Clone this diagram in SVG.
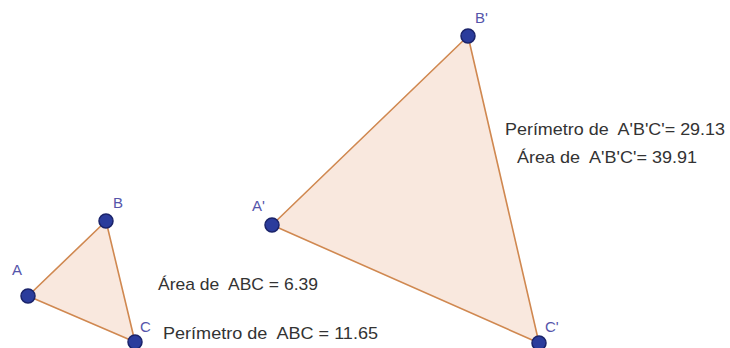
<svg xmlns="http://www.w3.org/2000/svg" width="730" height="348" viewBox="0 0 730 348">
<style>
.tri{fill:#f9e8de;stroke:#d08850;stroke-width:1.6;stroke-linejoin:round}
.pt{fill:#2b3c9c;stroke:#1a236a;stroke-width:1.5}
.lbl{font-family:"Liberation Sans",Arial,sans-serif;font-size:15px;fill:#5555aa}
.txt{font-family:"Liberation Sans",Arial,sans-serif;font-size:17px;fill:#333333;white-space:pre}
</style>
<rect width="730" height="348" fill="#ffffff"/>
<g id="connectors">
<polygon id="triABC" class="tri" points="28,296 106,221 135,342"/>
<polygon id="triA1B1C1" class="tri" points="272,225 468,36 539,343"/>
</g>
<g id="A"><circle class="pt" cx="28" cy="296" r="7"/><text class="lbl" x="12" y="275">A</text></g>
<g id="B"><circle class="pt" cx="106" cy="221" r="7"/><text class="lbl" x="113" y="208">B</text></g>
<g id="C"><circle class="pt" cx="135" cy="342" r="7"/><text class="lbl" x="140" y="332">C</text></g>
<g id="A1"><circle class="pt" cx="272" cy="225" r="7"/><text class="lbl" x="252" y="211">A'</text></g>
<g id="B1"><circle class="pt" cx="468" cy="36" r="7"/><text class="lbl" x="475" y="23">B'</text></g>
<g id="C1"><circle class="pt" cx="539" cy="343" r="7"/><text class="lbl" x="545" y="332">C'</text></g>
<g id="labels">
<text class="txt" x="158" y="290" textLength="160" lengthAdjust="spacingAndGlyphs">Área de  ABC = 6.39</text>
<text class="txt" x="163" y="339" textLength="215" lengthAdjust="spacingAndGlyphs">Perímetro de  ABC = 11.65</text>
<text class="txt" x="505" y="135" textLength="220" lengthAdjust="spacingAndGlyphs">Perímetro de  A'B'C'= 29.13</text>
<text class="txt" x="517" y="163" textLength="180" lengthAdjust="spacingAndGlyphs">Área de  A'B'C'= 39.91</text>
</g>
</svg>
